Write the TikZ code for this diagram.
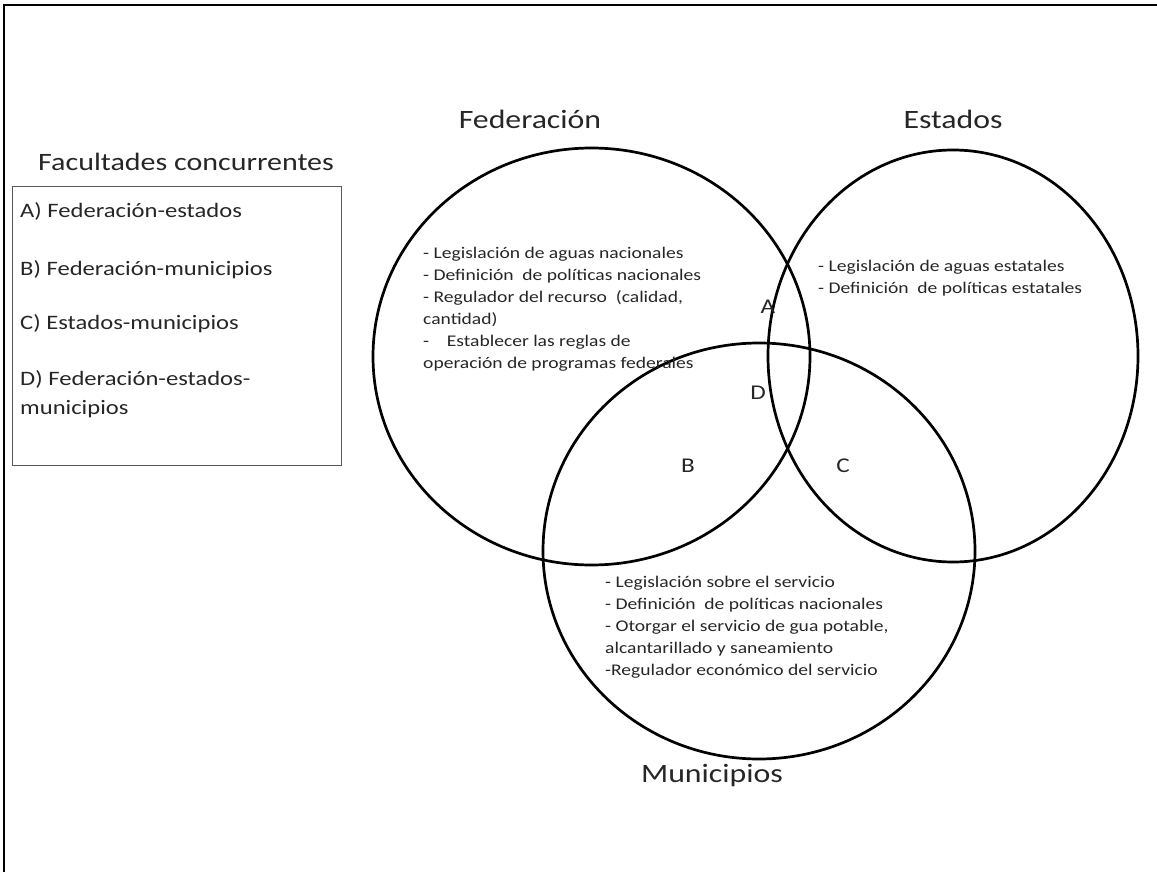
\documentclass[tikz,border=0pt]{standalone}
\usepackage{fontspec}
\setmainfont{Carlito}[FakeStretch=1.2]
\begin{document}
\begin{tikzpicture}[x=1pt,y=-1pt,
  venn/.style={draw=black, line width=2.7pt},
  setlabel/.style={font=\fontsize{26.5}{30}\selectfont, text=black!85, anchor=base, inner sep=0pt},
  region/.style={font=\fontsize{21}{24}\selectfont, text=black!85, inner sep=0pt},
  item/.style={font=\fontsize{16.3}{20}\selectfont, anchor=base west, inner sep=0pt, text=black!85},
  legend/.style={font=\fontsize{20.5}{24}\selectfont, anchor=base west, inner sep=0pt, text=black!85}]
\useasboundingbox (0,0) rectangle (1157,872);
% page frame (top and left edges)
\draw[line width=1.6pt] (4,872) -- (4,5) -- (1157,5);

% the three sets
\draw[venn] (591.5,356.5) ellipse [x radius=218.5, y radius=208.5];
\draw[venn] (953,356) ellipse [x radius=185, y radius=206];
\draw[venn] (759,551) ellipse [x radius=216, y radius=208];

% set names
\node[setlabel] (tfed) at (530,129) {Federación};
\node[setlabel] (test) at (953,129) {Estados};
\node[setlabel] (tmun) at (712,782) {Municipios};

% intersection letters
\node[region] (ra) at (768,307) {A};
\node[region] (rd) at (758,393) {D};
\node[region] (rb) at (688,466) {B};
\node[region] (rc) at (843,466) {C};

% powers of the federation
\node[item] (f1) at (423,258) {- Legislación de aguas nacionales};
\node[item] (f2) at (423,280) {- Definición\ \ de políticas nacionales};
\node[item] (f3) at (423,302) {- Regulador del recurso\ \ (calidad,};
\node[item] (f4) at (423,324) {cantidad)};
\node[item] (f5) at (423,346) {-\ \ \ \ Establecer las reglas de};
\node[item] (f6) at (423,368) {operación de programas federales};

% powers of the states
\node[item] (e1) at (818,271) {- Legislación de aguas estatales};
\node[item] (e2) at (818,293) {- Definición\ \ de políticas estatales};

% powers of the municipalities
\node[item] (m1) at (605,587) {- Legislación sobre el servicio};
\node[item] (m2) at (605,609) {- Definición\ \ de políticas nacionales};
\node[item] (m3) at (605,631) {- Otorgar el servicio de gua potable,};
\node[item] (m4) at (605,653) {alcantarillado y saneamiento};
\node[item] (m5) at (605,675) {-Regulador económico del servicio};

% legend of concurrent powers
\node[font=\fontsize{25}{30}\selectfont, anchor=base west, inner sep=0pt, text=black!85] (lt) at (38,171) {Facultades concurrentes};
\draw[draw=black!65, line width=1pt] (12,187) rectangle (341,465);
\node[legend] (la) at (20,218) {A) Federación-estados};
\node[legend] (lb) at (20,275) {B) Federación-municipios};
\node[legend] (lc) at (20,329) {C) Estados-municipios};
\node[legend] (ld) at (20,385) {D) Federación-estados-};
\node[legend] (ld2) at (20,414) {municipios};
\end{tikzpicture}
\end{document}
